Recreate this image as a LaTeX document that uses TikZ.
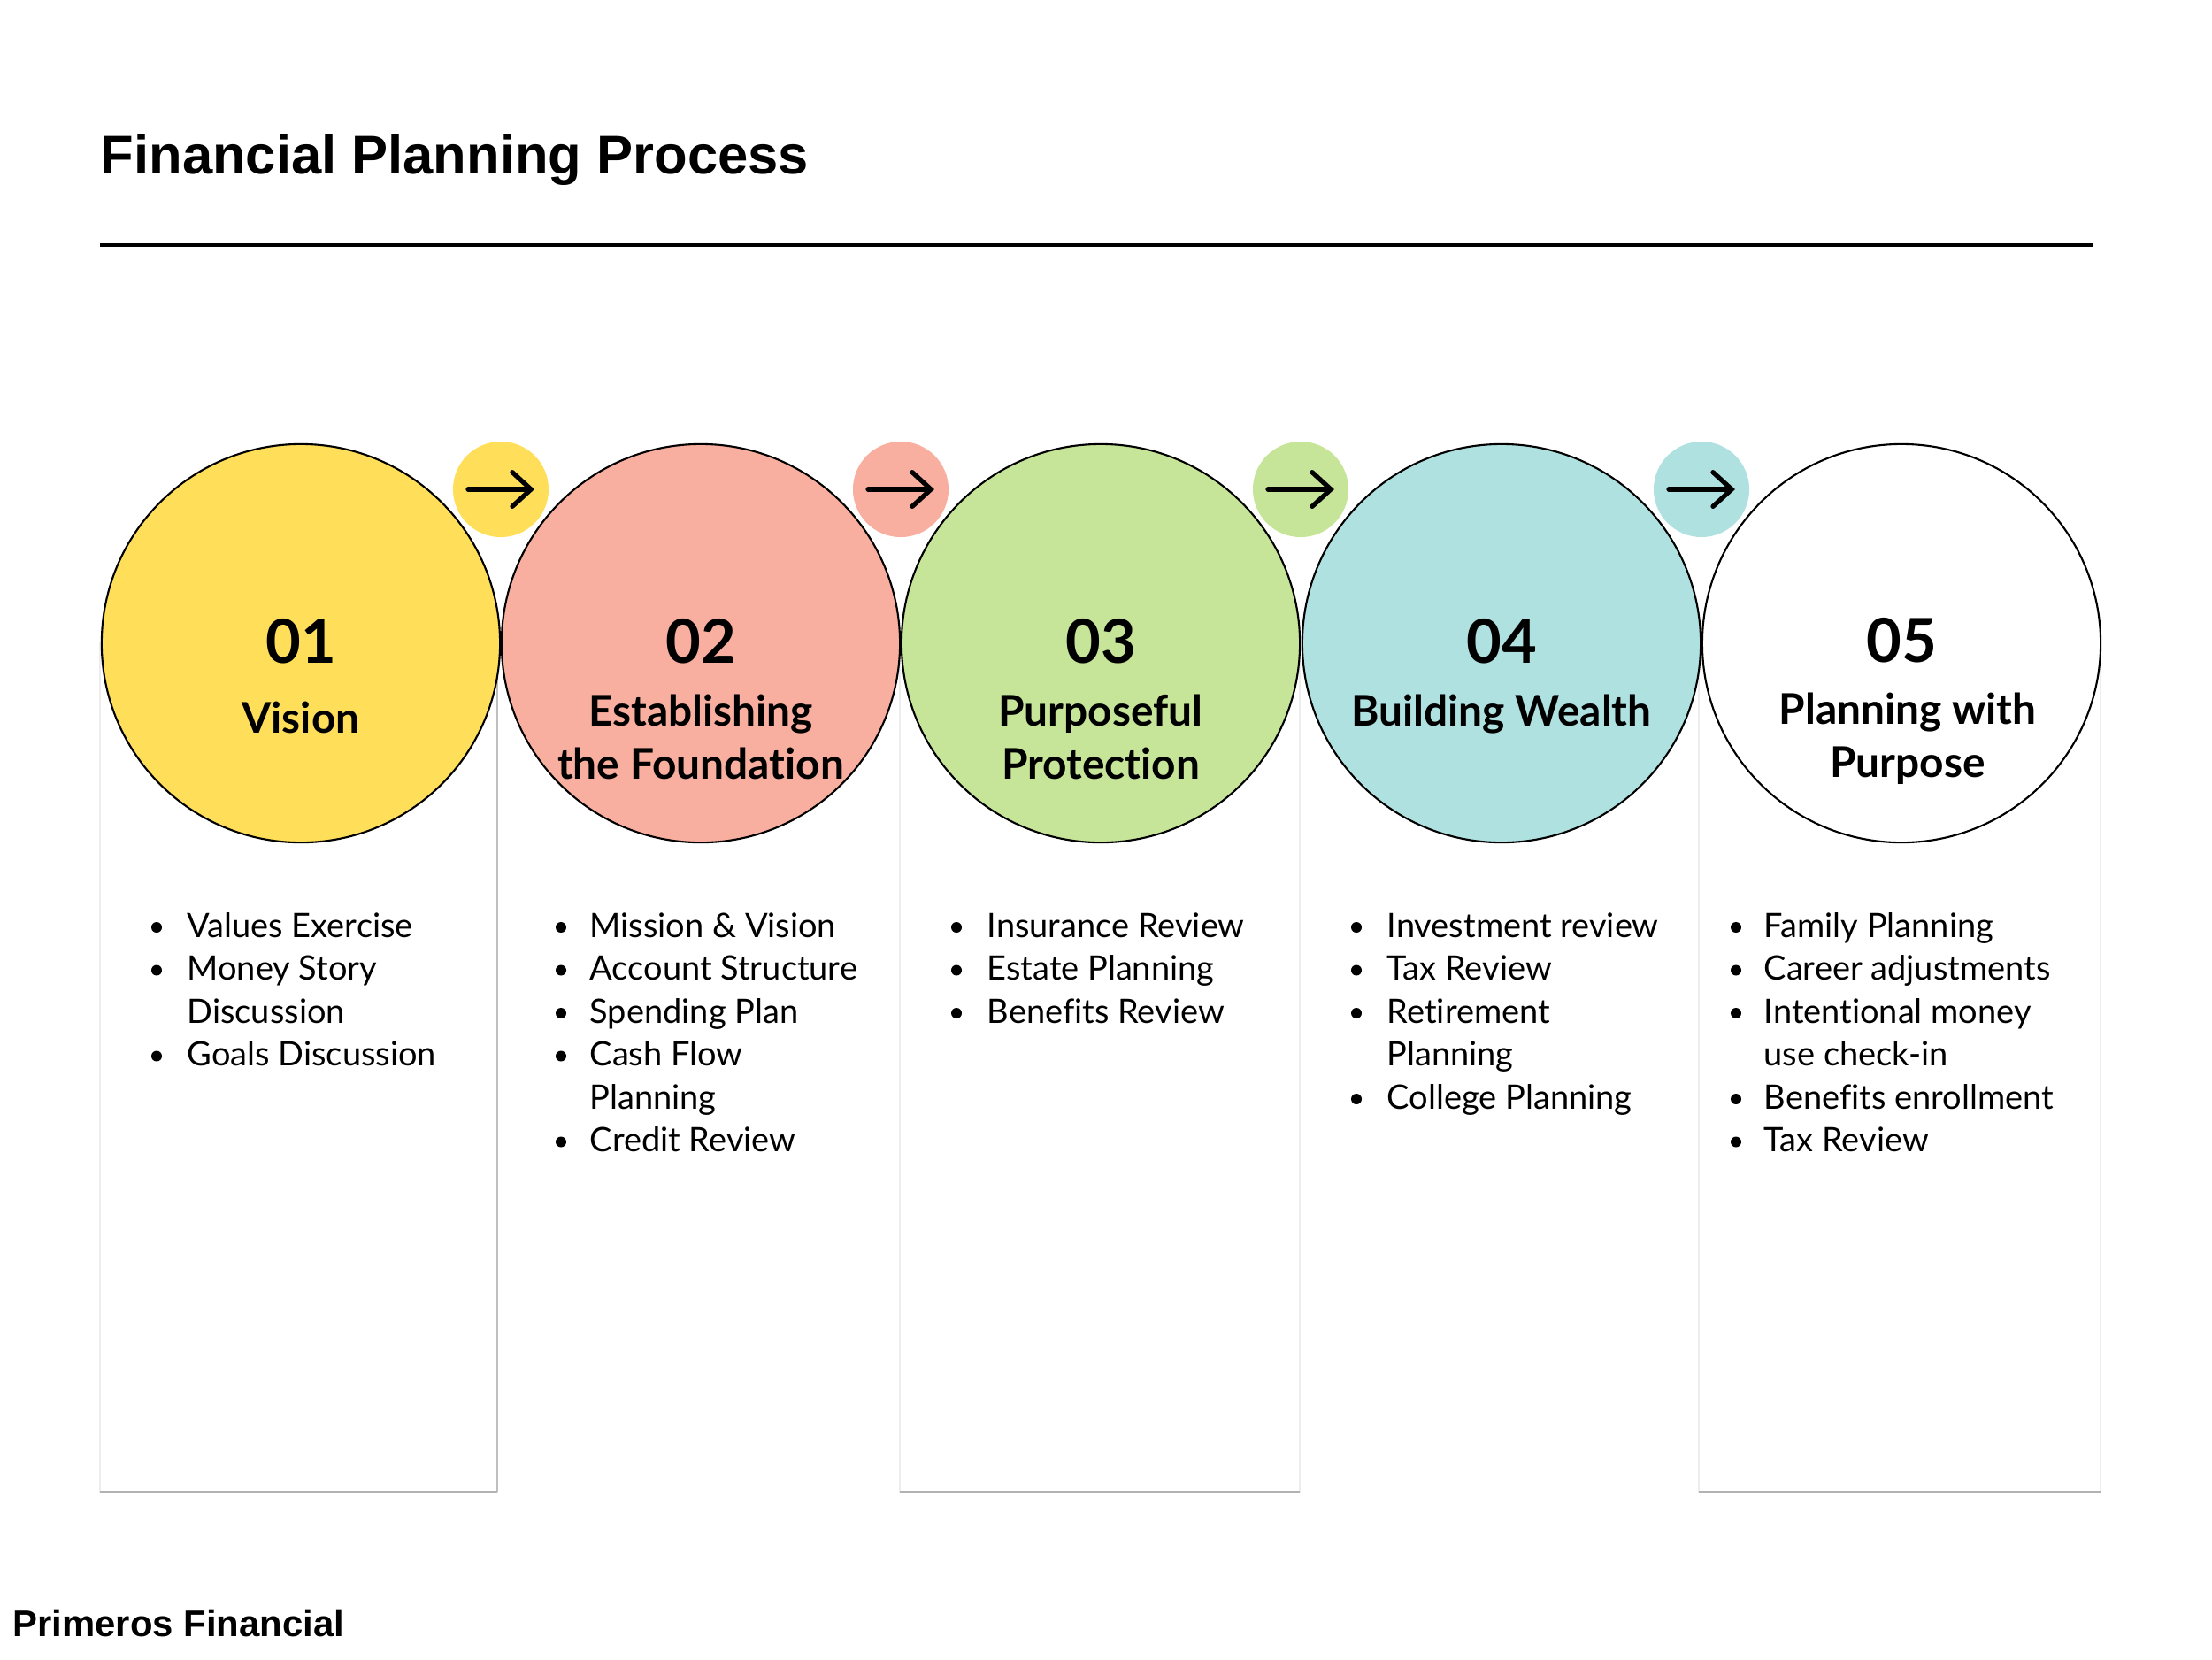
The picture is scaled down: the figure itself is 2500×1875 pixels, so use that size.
\documentclass[tikz,border=0pt]{standalone}
\usepackage{fontspec}
\setmainfont{Lato}[Ligatures=NoCommon]
\newfontfamily\brandfont{Liberation Sans}
\usepackage{xcolor}
\definecolor{visionyellow}{HTML}{FFDE59}
\definecolor{basesalmon}{HTML}{F9AF9F}
\definecolor{guardgreen}{HTML}{C6E599}
\definecolor{wealthteal}{HTML}{B0E1E1}
\usetikzlibrary{
  arrows.meta,
  positioning,
  calc
}

\begin{document}
\begin{tikzpicture}[x=0.01cm, y=-0.01cm,
  stepcircle/.style={circle, draw=black, line width=0.6pt, minimum size=4.5cm, inner sep=0pt},
  joint/.style={circle, minimum size=1.08cm, inner sep=0pt},
  arrowicon/.style={line width=1.5pt, line cap=round,
    -{Straight Barb[length=6pt, width=11pt, line cap=round]}},
  stepnum/.style={font=\bfseries\fontsize{19.5}{22}\selectfont, anchor=base, inner sep=0pt},
  steptitle/.style={font=\bfseries\fontsize{13.6}{17}\selectfont, align=center, anchor=base, inner sep=0pt},
  itemtext/.style={font=\fontsize{10.8}{13.8}\selectfont, anchor=base west, inner sep=0pt},
  panel/.style={draw=black!7, line width=0.5pt},
  panelbase/.style={draw=black!30, line width=0.7pt}]

  \useasboundingbox (0,0) rectangle (2500,1875);

  % heading and rule
  \node[anchor=base west, inner sep=0pt, font=\brandfont\bfseries\fontsize{17.5}{21}\selectfont]
    (title) at (113,196) {Financial Planning Process};
  \draw[line width=0.9pt] (113,277) -- (2365,277);

  % column panels behind the circles
  \draw[panel] (113,727) rectangle (562,1686);
  \draw[panel] (1017,727) rectangle (1469,1686);
  \draw[panel] (1920,727) rectangle (2374,1686);
  \draw[draw=black!25, line width=0.6pt] (562,727) -- (562,1686);
  \draw[panelbase] (113,1686) -- (562,1686);
  \draw[panelbase] (1017,1686) -- (1469,1686);
  \draw[panelbase] (1920,1686) -- (2374,1686);

  % small joints with arrows
  \node[joint, fill=visionyellow] (j1) at (566,553) {};
  \node[joint, fill=basesalmon] (j2) at (1018,553) {};
  \node[joint, fill=guardgreen] (j3) at (1470,553) {};
  \node[joint, fill=wealthteal] (j4) at (1923,553) {};
  \foreach \j in {j1,j2,j3,j4} {
    \draw[arrowicon] ($(\j)+(-37,0)$) -- ($(\j)+(38,0)$);
  }

  % the five steps
  \node[stepcircle, fill=visionyellow] (c1) at (340,727) {};
  \node[stepcircle, fill=basesalmon] (c2) at (792,727) {};
  \node[stepcircle, fill=guardgreen] (c3) at (1244,727) {};
  \node[stepcircle, fill=wealthteal] (c4) at (1697,727) {};
  \node[stepcircle, fill=white] (c5) at (2149,727) {};

  \node[stepnum] (n1) at (340,749) {01};
  \node[stepnum] (n2) at (792,749) {02};
  \node[stepnum] (n3) at (1244,749) {03};
  \node[stepnum] (n4) at (1697,749) {04};
  \node[stepnum] (n5) at (2149,748) {05};

  % multi-line titles sit on their last baseline
  \node[steptitle] (t1) at (340,828) {Vision};
  \node[steptitle] (t2) at (792,880) {Establishing\\the Foundation};
  \node[steptitle] (t3) at (1244,880) {Purposeful\\Protection};
  \node[steptitle] (t4) at (1697,820) {Building Wealth};
  \node[steptitle] (t5) at (2156,878) {Planning with\\Purpose};

  % bullet lists
  \foreach \txt/\bul [count=\i] in {Values Exercise/1, Money Story/1, Discussion/0, Goals Discussion/1} {
    \node[itemtext] (vis\i) at (211,1059+48.5*\i-48.5) {\txt};
    \ifnum\bul=1 \fill (177,1048+48.5*\i-48.5) circle (6); \fi
  }
  \foreach \txt/\bul [count=\i] in {Mission \& Vision/1, Account Structure/1, Spending Plan/1,
      Cash Flow/1, Planning/0, Credit Review/1} {
    \node[itemtext] (fnd\i) at (666,1059+48.5*\i-48.5) {\txt};
    \ifnum\bul=1 \fill (634,1048+48.5*\i-48.5) circle (6); \fi
  }
  \foreach \txt/\bul [count=\i] in {Insurance Review/1, Estate Planning/1, Benefits Review/1} {
    \node[itemtext] (prt\i) at (1115,1059+48.5*\i-48.5) {\txt};
    \ifnum\bul=1 \fill (1081,1048+48.5*\i-48.5) circle (6); \fi
  }
  \foreach \txt/\bul [count=\i] in {Investment review/1, Tax Review/1, Retirement/1,
      Planning/0, College Planning/1} {
    \node[itemtext] (wlt\i) at (1567,1059+48.5*\i-48.5) {\txt};
    \ifnum\bul=1 \fill (1533,1048+48.5*\i-48.5) circle (6); \fi
  }
  \foreach \txt/\bul [count=\i] in {Family Planning/1, Career adjustments/1, Intentional money/1,
      use check-in/0, Benefits enrollment/1, Tax Review/1} {
    \node[itemtext] (pur\i) at (1993,1059+48.5*\i-48.5) {\txt};
    \ifnum\bul=1 \fill (1962,1048+48.5*\i-48.5) circle (6); \fi
  }

  % footer
  \node[anchor=base west, inner sep=0pt, font=\brandfont\bfseries\fontsize{11.9}{14}\selectfont]
    (brand) at (14,1849) {Primeros Financial};

\end{tikzpicture}
\end{document}
